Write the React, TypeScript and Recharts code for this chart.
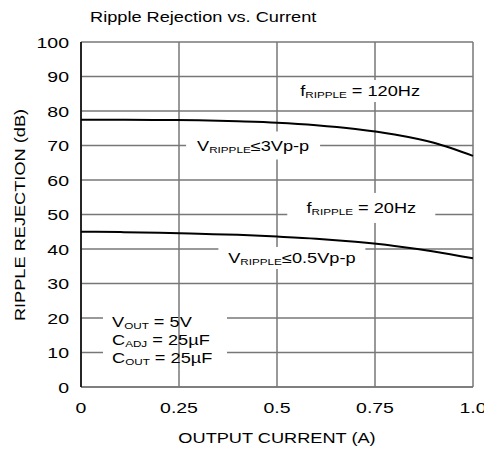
import React from "react";
import {
  LineChart,
  Line,
  XAxis,
  YAxis,
  CartesianGrid,
  ReferenceDot,
} from "recharts";

// output current (A)
const CURRENT = [0, 0.1, 0.2, 0.3, 0.4, 0.5, 0.6, 0.7, 0.8, 0.9, 1.0];
// ripple rejection (dB), f = 120Hz, Vripple <= 3Vp-p
const REJ_120HZ = [77.5, 77.5, 77.4, 77.3, 77.0, 76.6, 75.9, 74.8, 73.2, 70.8, 67.0];
// ripple rejection (dB), f = 20Hz, Vripple <= 0.5Vp-p
const REJ_20HZ = [45.0, 44.9, 44.7, 44.4, 44.1, 43.6, 43.0, 42.1, 40.9, 39.3, 37.3];

const X_TICKS = [0, 0.25, 0.5, 0.75, 1.0];
const X_TICK_LABELS = ["0", "0.25", "0.5", "0.75", "1.0"];
const Y_TICKS = [0, 10, 20, 30, 40, 50, 60, 70, 80, 90, 100];

// in-plot notes: [main, subscript, rest] per line
const NOTES = [
  { x: 0.712, y: 85.8, w: 126, h: 22, dx: 0, anchor: "middle", lines: [["f", "RIPPLE", " = 120Hz"]] },
  { x: 0.439, y: 70.0, w: 134, h: 28, dx: 0, anchor: "middle", lines: [["V", "RIPPLE", "≤3Vp-p"]] },
  { x: 0.715, y: 51.9, w: 148, h: 30, dx: 0, anchor: "middle", lines: [["f", "RIPPLE", " = 20Hz"]] },
  { x: 0.538, y: 37.4, w: 147, h: 22, dx: 0, anchor: "middle", lines: [["V", "RIPPLE", "≤0.5Vp-p"]] },
  {
    // anchored on the 0.25 A gridline, which runs through this box
    x: 0.25,
    y: 13.6,
    w: 124,
    h: 58,
    dx: -67,
    anchor: "start",
    through: true,
    lines: [
      ["V", "OUT", " = 5V"],
      ["C", "ADJ", "  = 25µF"],
      ["C", "OUT", " = 25µF"],
    ],
  },
];

const data = CURRENT.map((c, i) => ({ current: c, a: REJ_120HZ[i], b: REJ_20HZ[i] }));

const FONT = "'Liberation Sans', Arial, sans-serif";
const SX = 1.3;
const GRID = "#777";

const XTick = (props: any) => {
  const { x, y, payload, index } = props;
  return (
    <text
      transform={`translate(${x},${y + 26}) scale(${SX},1)`}
      textAnchor="middle"
      fontSize={15}
      fontFamily={FONT}
      fill="#000"
    >
      {X_TICK_LABELS[index] ?? String(payload.value)}
    </text>
  );
};

const YTick = (props: any) => {
  const { x, y, payload } = props;
  return (
    <text
      transform={`translate(${x - 12},${y + 5.5}) scale(${SX},1)`}
      textAnchor="end"
      fontSize={15}
      fontFamily={FONT}
      fill="#000"
    >
      {payload.value}
    </text>
  );
};

const Note = (props: any) => {
  const { cx, cy, note } = props;
  const n = note.lines.length;
  const step = 18;
  const tx = cx + note.dx;
  const left = note.anchor === "start" ? tx - 9 : tx - note.w / 2;
  return (
    <g>
      <rect x={left} y={cy - note.h / 2} width={note.w} height={note.h} fill="#fff" />
      {note.through && (
        <line
          x1={cx}
          x2={cx}
          y1={cy - note.h / 2}
          y2={cy + note.h / 2}
          stroke={GRID}
          strokeWidth={1.5}
        />
      )}
      {note.lines.map((ln: string[], i: number) => {
        const ly = cy + (i - (n - 1) / 2) * step + 5;
        return (
          <text
            key={i}
            transform={`translate(${tx},${ly}) scale(${SX},1)`}
            textAnchor={note.anchor}
            fontSize={14}
            fontFamily={FONT}
            fill="#000"
          >
            <tspan>{ln[0]}</tspan>
            <tspan fontSize={9} dy={2}>
              {ln[1]}
            </tspan>
            <tspan dy={-2}>{ln[2]}</tspan>
          </text>
        );
      })}
    </g>
  );
};

export default function App() {
  return (
    <div
      style={{
        position: "absolute",
        left: 0,
        top: 0,
        width: 484,
        height: 449,
        background: "#fff",
        overflow: "hidden",
      }}
    >
      <LineChart
        width={484}
        height={449}
        data={data}
        margin={{ top: 42, right: 11, bottom: 0, left: 0 }}
      >
        <CartesianGrid stroke={GRID} strokeWidth={1.5} />
        <XAxis
          dataKey="current"
          type="number"
          domain={[0, 1]}
          ticks={X_TICKS}
          tick={<XTick />}
          tickLine={false}
          tickSize={0}
          tickMargin={0}
          height={62}
          axisLine={{ stroke: GRID, strokeWidth: 1.5 }}
          interval={0}
        />
        <YAxis
          type="number"
          domain={[0, 100]}
          ticks={Y_TICKS}
          tick={<YTick />}
          tickLine={false}
          tickSize={0}
          tickMargin={0}
          width={81}
          axisLine={{ stroke: "#000", strokeWidth: 1.5 }}
          interval={0}
        />
        {NOTES.map((nt, i) => (
          <ReferenceDot
            key={i}
            x={nt.x}
            y={nt.y}
            r={0}
            shape={(p: any) => <Note {...p} note={nt} />}
          />
        ))}
        <Line
          type="monotone"
          dataKey="a"
          stroke="#000"
          strokeWidth={2}
          dot={false}
          isAnimationActive={false}
        />
        <Line
          type="monotone"
          dataKey="b"
          stroke="#000"
          strokeWidth={2}
          dot={false}
          isAnimationActive={false}
        />
      </LineChart>
      <svg
        width={484}
        height={449}
        style={{ position: "absolute", left: 0, top: 0, pointerEvents: "none" }}
      >
        <text
          transform={`translate(90,22) scale(${SX},1)`}
          fontSize={14}
          fontFamily={FONT}
          fill="#000"
        >
          Ripple Rejection vs. Current
        </text>
        <text
          transform={`translate(277,443) scale(${SX},1)`}
          textAnchor="middle"
          fontSize={14}
          fontFamily={FONT}
          fill="#000"
        >
          OUTPUT CURRENT (A)
        </text>
        <text
          transform={`translate(25,215) rotate(-90) scale(${SX},1)`}
          textAnchor="middle"
          fontSize={14}
          fontFamily={FONT}
          fill="#000"
        >
          RIPPLE REJECTION (dB)
        </text>
      </svg>
    </div>
  );
}
